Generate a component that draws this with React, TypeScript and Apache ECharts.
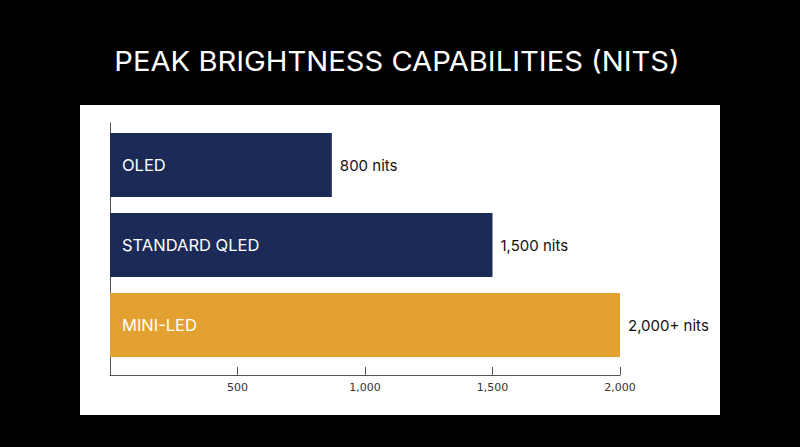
import { useEffect, useRef } from 'react'
import * as echarts from 'echarts'

const categories = ['OLED', 'STANDARD QLED', 'MINI-LED']
// bar lengths as drawn in the picture (OLED bar is drawn past its 800 label)
const barValues = [870, 1500, 2000]
const valueLabels = ['800 nits', '1,500 nits', '2,000+ nits']
const barColors = ['#1b2a57', '#1b2a57', '#e2a131']
const axisTicks = [0, 500, 1000, 1500, 2000]
const titleText = 'PEAK BRIGHTNESS CAPABILITIES (NITS)'

export default function App() {
  const rootRef = useRef<HTMLDivElement | null>(null)
  useEffect(() => {
    document.body.style.margin = '0'
    if (!rootRef.current) return
    const chart = echarts.init(rootRef.current, undefined, { renderer: 'svg' })
    const font = 'Inter, "Noto Sans", sans-serif'
    chart.setOption({
      animation: false,
      backgroundColor: '#000',
      graphic: [
        { type: 'rect', left: 80, top: 105, shape: { width: 640, height: 310 }, style: { fill: '#fff' }, z: -10 },
        {
          type: 'text',
          x: 397,
          y: 61,
          scaleX: 1.08,
          style: {
            text: titleText,
            fill: '#fff',
            font: `normal 27px ${font}`,
            textAlign: 'center',
            textVerticalAlign: 'middle',
          },
        },
      ],
      grid: [
        { left: 110, width: 510, top: 125, height: 240 },
        { left: 110, width: 510, top: 123, height: 252 },
      ],
      xAxis: [
        { gridIndex: 0, type: 'value', min: 0, max: 2000, show: false },
        {
          gridIndex: 1,
          type: 'value',
          min: axisTicks[0],
          max: axisTicks[axisTicks.length - 1],
          interval: 500,
          axisLine: { show: true, lineStyle: { color: '#555', width: 1 } },
          axisTick: { show: true, inside: true, length: 8, lineStyle: { color: '#555' } },
          splitLine: { show: false },
          axisLabel: {
            color: '#333',
            fontSize: 11,
            fontFamily: '"DejaVu Sans", sans-serif',
            margin: 7,
            formatter: (v: number) => (v === 0 ? '' : v.toLocaleString('en-US')),
          },
        },
      ],
      yAxis: [
        { gridIndex: 0, type: 'category', data: categories, inverse: true, show: false },
        {
          gridIndex: 1,
          type: 'value',
          min: 0,
          max: 1,
          axisLine: { show: true, lineStyle: { color: '#555', width: 1 } },
          axisTick: { show: false },
          axisLabel: { show: false },
          splitLine: { show: false },
        },
      ],
      series: [
        {
          type: 'bar',
          xAxisIndex: 0,
          yAxisIndex: 0,
          barCategoryGap: '20%',
          data: barValues.map((v, i) => ({ value: v, itemStyle: { color: barColors[i] } })),
          label: {
            show: true,
            position: 'insideLeft',
            distance: 12,
            color: '#fff',
            fontSize: 16.5,
            fontFamily: font,
            formatter: (p: any) => categories[p.dataIndex],
          },
        },
        {
          type: 'bar',
          xAxisIndex: 0,
          yAxisIndex: 0,
          barGap: '-100%',
          barCategoryGap: '20%',
          silent: true,
          data: barValues,
          itemStyle: { color: 'rgba(0,0,0,0)' },
          label: {
            show: true,
            position: 'right',
            distance: 8,
            color: '#111',
            fontSize: 15,
            fontFamily: font,
            formatter: (p: any) => valueLabels[p.dataIndex],
          },
        },
      ],
    })
    const resize = () => chart.resize()
    window.addEventListener('resize', resize)
    return () => {
      window.removeEventListener('resize', resize)
      chart.dispose()
    }
  }, [])

  return <div ref={rootRef} style={{ width: 800, height: 447 }} />
}
